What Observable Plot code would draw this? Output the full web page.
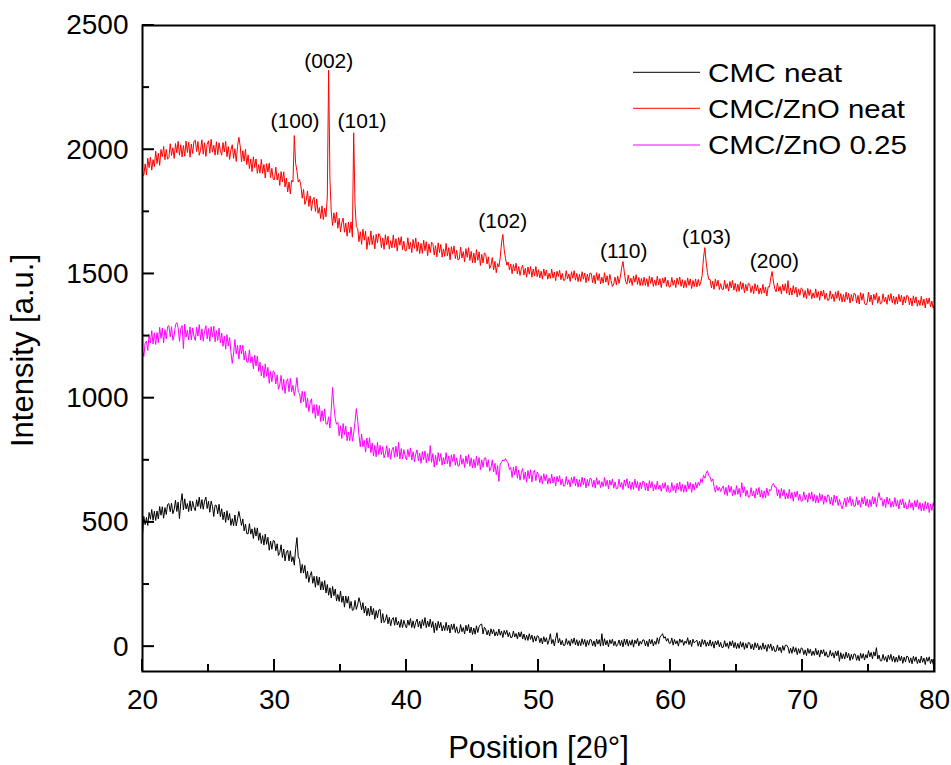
<!DOCTYPE html>
<html><head><meta charset="utf-8">
<script src="https://cdn.jsdelivr.net/npm/d3@7"></script>
<script src="https://cdn.jsdelivr.net/npm/@observablehq/plot@0.6"></script>
<style>
body{margin:0;background:#fff;}
#wrap{position:relative;width:951px;height:765px;font-family:"Liberation Sans",Arial,sans-serif;}
#legend{position:absolute;left:0;top:0;pointer-events:none;}
</style></head><body><div id="wrap"></div>
<script>
// scan grid: each row covers 2° of 2θ, one reading every 0.1°
const START = 20, ROW_SPAN = 2, STEP = 0.1;

const cmcNeat = [
[450,524,491,520,488,540,513,552,509,545,508,546,514,564,529,563,517,560,532,572],
[576,543,577,535,553,589,544,582,515,579,616,550,595,554,576,544,587,547,585,560],
[547,591,564,602,556,592,553,586,602,556,585,541,586,565,524,570,568,535,573,523],
[555,511,542,500,547,509,536,488,515,487,530,486,514,544,517,488,514,466,493,455],
[454,495,453,474,435,479,445,478,428,458,415,447,409,453,412,440,388,425,392,427],
[425,386,414,367,379,410,359,393,345,381,388,345,386,342,362,328,395,439,362,350],
[296,331,296,327,274,304,259,287,302,255,283,239,283,247,280,228,262,228,266,216],
[250,207,237,196,242,205,232,184,210,182,224,178,204,159,204,175,202,154,182,146],
[149,186,150,169,197,176,148,177,135,163,125,155,123,163,128,154,110,145,116,147],
[150,95,133,97,106,129,92,118,83,110,117,86,118,87,102,77,109,77,106,87],
[75,107,86,113,77,104,74,98,111,79,103,73,109,85,117,76,103,80,111,77],
[101,56,95,65,102,76,98,63,85,65,98,65,87,55,90,69,92,57,80,54],
[57,89,60,77,51,86,63,89,55,79,49,75,50,84,57,80,89,91,51,78],
[71,47,66,43,72,52,69,43,60,44,71,46,63,37,65,49,66,40,57,36],
[38,63,39,53,31,58,39,60,31,51,26,46,25,52,29,47,18,42,22,44],
[41,16,35,11,40,19,36,9,26,52,12,29,3,32,56,15,33,7,25,4],
[6,32,9,24,3,31,13,35,7,28,3,24,4,32,9,29,0,25,6,29],
[27,3,23,0,30,10,28,2,52,4,32,7,25,-1,28,12,30,4,22,1],
[9,27,4,25,-1,31,8,30,2,24,6,28,-2,26,12,33,3,22,10,27],
[27,3,23,0,30,11,29,3,22,9,36,12,38,44,52,34,40,22,33,14],
[14,35,6,29,11,24,2,31,17,28,5,22,13,36,8,26,1,30,15,21],
[26,2,22,-1,29,9,27,1,19,3,27,2,20,-6,23,7,25,-1,17,-4],
[-2,24,0,15,-7,21,3,24,-4,17,-8,13,-7,20,-2,17,-11,13,-6,17],
[15,-9,10,-13,16,-4,13,-13,4,-12,15,-10,7,-19,9,-7,11,-16,2,-19],
[-18,7,-16,-2,-24,4,-15,6,6,-2,-27,-6,-27,0,-22,-4,-32,-8,-27,-5],
[-8,-32,-13,-36,-7,-27,-10,-36,-18,-35,-7,-33,-15,-42,-13,-29,-12,-38,-21,-42],
[-40,-15,-38,-24,-46,-18,-37,-16,-59,-24,-49,-29,-50,-22,-45,-27,-56,-31,-51,-29],
[-31,-55,-35,-57,-27,-47,-28,-54,-32,-46,-16,-41,-23,-49,-21,-38,-4,-50,-34,-57],
[-57,-31,-55,-40,-62,-34,-52,-31,-59,-38,-63,-42,-62,-35,-57,-38,-67,-42,-61,-38],
[-41,-65,-45,-69,-39,-59,-41,-68,-50,-66,-38,-63,-46,-72,-43,-59,-41,-68,-50,-71],
[-58]];

const cmcZnoNeat = [
[1895,1896,1943,1899,1966,1928,1970,1918,1960,1932,1994,1944,1986,1937,2001,1972,2013,1960,2001,1962],
[1968,2024,1977,2008,1965,2025,1988,2034,1978,2020,1971,2017,1974,2035,1989,2030,1970,2023,1985,2034],
[2038,1993,2033,1978,1998,2040,1982,2028,1973,2022,2036,1986,2042,1990,2018,1978,2032,1980,2028,1996],
[1978,2029,1991,2034,1972,2013,1961,1999,2020,1965,2004,1953,2013,2050,2016,1952,1996,1954,2002,1940],
[1979,1924,1963,1912,1972,1928,1963,1905,1940,1906,1961,1905,1941,1886,1944,1910,1946,1888,1925,1881],
[1880,1930,1878,1904,1856,1912,1870,1911,1850,1886,1830,1870,1822,1877,1870,2057,1945,1915,1870,1880],
[1855,1805,1840,1780,1796,1834,1772,1814,1755,1799,1808,1752,1802,1744,1767,1723,1774,1719,1764,1730],
[1810,2320,1880,1750,1695,1746,1706,1748,1684,1724,1670,1706,1725,1668,1705,1652,1709,1666,1710,1648],
[2068,1780,1690,1684,1630,1670,1619,1680,1636,1672,1599,1650,1616,1673,1618,1655,1601,1660,1626,1663],
[1653,1606,1645,1599,1658,1618,1652,1600,1634,1605,1657,1607,1642,1592,1646,1616,1650,1598,1632,1592],
[1595,1646,1600,1627,1586,1639,1603,1645,1591,1629,1582,1623,1583,1636,1594,1630,1574,1621,1586,1628],
[1622,1576,1614,1569,1625,1586,1619,1568,1601,1571,1623,1573,1606,1557,1610,1580,1613,1562,1595,1556],
[1560,1608,1564,1590,1549,1602,1567,1606,1554,1591,1545,1584,1545,1598,1555,1589,1534,1579,1544,1585],
[1579,1540,1569,1522,1535,1566,1516,1551,1505,1542,1528,1565,1625,1659,1598,1562,1535,1548,1516,1540],
[1501,1538,1512,1543,1500,1530,1494,1521,1535,1496,1523,1487,1528,1499,1530,1487,1520,1492,1530,1489],
[1517,1484,1511,1479,1520,1492,1516,1479,1503,1482,1519,1484,1508,1473,1511,1490,1515,1477,1502,1474],
[1476,1513,1480,1500,1470,1509,1483,1513,1475,1502,1469,1499,1470,1509,1479,1504,1465,1499,1473,1504],
[1501,1465,1495,1460,1505,1474,1501,1460,1487,1463,1505,1467,1493,1455,1498,1473,1450,1460,1487,1456],
[1492,1462,1488,1525,1550,1508,1470,1459,1496,1463,1483,1454,1492,1467,1497,1458,1486,1453,1482,1454],
[1487,1454,1481,1449,1491,1462,1487,1450,1475,1453,1491,1456,1481,1445,1484,1463,1488,1450,1475,1447],
[1449,1486,1454,1474,1445,1484,1458,1488,1450,1477,1444,1474,1446,1484,1454,1480,1441,1474,1449,1480],
[1448,1478,1452,1468,1495,1565,1606,1548,1505,1478,1478,1444,1471,1438,1480,1451,1475,1437,1461,1439],
[1437,1474,1441,1461,1431,1470,1444,1474,1435,1463,1429,1459,1430,1469,1438,1464,1424,1458,1432,1463],
[1459,1425,1452,1420,1461,1432,1456,1419,1443,1421,1458,1423,1447,1411,1449,1448,1485,1510,1468,1440],
[1428,1464,1431,1450,1420,1458,1432,1461,1422,1473,1415,1444,1415,1453,1422,1447,1407,1440,1414,1444],
[1439,1405,1433,1400,1442,1413,1437,1400,1424,1403,1440,1405,1429,1394,1432,1411,1435,1398,1422,1394],
[1395,1432,1399,1419,1389,1428,1402,1432,1393,1421,1387,1417,1388,1427,1397,1422,1383,1417,1391,1422],
[1419,1383,1414,1379,1425,1394,1421,1381,1375,1385,1427,1388,1415,1376,1419,1396,1424,1382,1410,1379],
[1383,1420,1388,1407,1378,1416,1391,1421,1384,1411,1377,1408,1380,1418,1388,1414,1375,1409,1384,1414],
[1410,1376,1403,1371,1412,1383,1408,1370,1394,1373,1410,1374,1399,1363,1402,1380,1404,1367,1391,1362],
[1378]];

const cmcZno025 = [
[1190,1168,1222,1230,1192,1257,1223,1272,1218,1263,1216,1264,1223,1285,1241,1282,1223,1276,1239,1288],
[1292,1247,1288,1233,1254,1296,1304,1284,1229,1278,1292,1200,1298,1246,1274,1234,1287,1235,1283,1250],
[1232,1286,1250,1296,1235,1279,1229,1269,1292,1239,1280,1229,1288,1246,1290,1227,1272,1232,1282,1222],
[1262,1209,1249,1197,1256,1210,1244,1184,1140,1182,1236,1178,1213,1157,1214,1178,1213,1154,1189,1145],
[1145,1195,1142,1167,1118,1173,1130,1170,1108,1145,1090,1130,1082,1138,1088,1124,1060,1108,1066,1110],
[1105,1057,1094,1036,1053,1092,1032,1076,1019,1066,1078,1026,1080,1026,1052,1010,1040,1083,1025,1020],
[980,1028,986,1027,962,1001,946,981,998,939,974,919,974,929,970,906,950,908,957,896],
[895,925,880,955,1043,968,918,895,902,849,889,838,898,853,888,829,864,829,884,827],
[860,905,958,912,850,805,856,804,830,783,840,799,841,781,820,767,810,764,822,773],
[810,773,805,760,776,809,762,798,754,792,803,762,807,765,822,755,797,756,793,767],
[752,794,764,800,751,785,744,775,792,748,779,738,785,752,788,740,777,747,809,742],
[777,722,770,731,781,746,777,731,761,735,781,737,767,724,772,745,775,730,760,726],
[729,772,734,757,721,768,737,773,726,760,719,754,720,767,729,761,712,752,722,759],
[760,722,752,706,720,752,703,738,692,729,665,735,742,752,748,757,745,740,712,722],
[681,722,692,727,678,711,670,700,717,673,703,662,709,676,712,663,700,711,668,703],
[694,660,688,655,696,668,692,654,679,657,694,659,683,647,686,664,688,651,675,646],
[648,685,653,672,643,681,657,685,647,675,642,672,644,682,652,678,639,673,647,678],
[675,642,670,638,680,652,669,640,664,644,681,646,670,635,670,650,675,638,663,635],
[637,674,642,661,632,671,646,676,638,666,632,662,633,674,640,665,627,661,636,666],
[663,630,658,626,668,640,664,627,652,632,666,634,650,625,657,637,661,624,649,621],
[623,660,628,648,619,658,633,663,625,653,621,651,623,664,634,660,621,655,630,661],
[638,662,648,676,660,690,678,697,708,688,684,664,675,645,622,648,628,642,624,638],
[647,613,641,608,650,621,645,608,632,611,648,613,637,602,660,619,643,605,630,601],
[603,640,607,627,598,636,611,641,602,630,597,627,599,638,608,632,628,650,657,642],
[643,607,632,597,637,608,632,594,618,596,633,597,621,585,623,602,626,589,613,585],
[587,623,591,610,581,619,594,623,584,612,578,608,579,617,587,612,573,606,581,611],
[607,573,601,568,610,581,606,568,593,571,555,574,598,563,601,580,605,567,592,564],
[566,603,570,590,561,600,574,604,566,594,561,592,564,604,574,601,562,597,620,590],
[599,565,593,560,602,573,597,560,584,563,600,565,589,554,592,571,595,558,582,554],
[556,592,560,579,549,588,562,591,553,580,546,576,547,585,555,580,540,574,548,579],
[560]];

const seriesNames = ["CMC neat", "CMC/ZnO neat", "CMC/ZnO 0.25"];
const seriesColors = ["#000000", "#ff0000", "#ff00ff"];
const seriesRows = [cmcNeat, cmcZnoNeat, cmcZno025];

const xTicks = [20, 30, 40, 50, 60, 70, 80];
const xMinorTicks = [25, 35, 45, 55, 65, 75];
const yTicks = [0, 500, 1000, 1500, 2000, 2500];
const yMinorTicks = [250, 750, 1250, 1750, 2250];

const peakLabels = ["(100)", "(002)", "(101)", "(102)", "(110)", "(103)", "(200)"];
const peakX = [31.56, 34.11, 36.63, 47.29, 56.46, 62.72, 67.87];
const peakY = [2087, 2327, 2087, 1683, 1566, 1622, 1522];

const xTitle = "Position [2θ°]";
const yTitle = "Intensity [a.u.]";

// flatten rows into (2θ, intensity) records
const tables = seriesRows.map((rows, s) =>
  rows.flatMap((row, r) => row.map((v, k) => ({
    x: +(START + r * ROW_SPAN + k * STEP).toFixed(2), y: v, series: seriesNames[s]
  }))));
const peaks = peakLabels.map((t, i) => ({t, x: peakX[i], y: peakY[i]}));

const FONT = '"Liberation Sans", Arial, sans-serif';
const W = 951, H = 765;
const fmt = d3.format("d");

const plot = Plot.plot({
  width: W, height: H,
  marginTop: 25, marginBottom: 94, marginLeft: 142, marginRight: 17,
  style: {fontFamily: FONT, background: "white", color: "black", overflow: "visible"},
  x: {domain: [20, 80]},
  y: {domain: [-100, 2500]},
  marks: [
    ...tables.map((tbl, s) => Plot.line(tbl, {x: "x", y: "y", stroke: seriesColors[s], strokeWidth: 1})),
    Plot.text(peaks, {x: "x", y: "y", text: "t", lineAnchor: "bottom", fontSize: 21, fill: "black"}),
    Plot.frame({stroke: "black", strokeWidth: 2}),
    Plot.axisX(xTicks, {tickSize: 0, tickPadding: 18, fontSize: 28, label: null, stroke: "none", tickFormat: fmt}),
    Plot.axisY(yTicks, {tickSize: 0, tickPadding: 14, fontSize: 28, label: null, stroke: "none", tickFormat: fmt}),
    Plot.text([xTitle], {text: d => d, frameAnchor: "bottom", textAnchor: "middle", lineAnchor: "bottom", dy: 86, fontSize: 31}),
    Plot.text([yTitle], {text: d => d, frameAnchor: "left", textAnchor: "middle", rotate: -90, dx: -119.5, dy: 2, fontSize: 31})
  ]
});

// inward tick marks, placed with the plot's own scales
const xs = plot.scale("x"), ys = plot.scale("y");
const frameBottom = ys.apply(ys.domain[0]);
const frameLeft = xs.apply(xs.domain[0]);
const tickG = d3.select(plot).append("g").attr("stroke", "black").attr("stroke-width", 2);
[[xTicks, 12], [xMinorTicks, 7]].forEach(([vals, len]) => vals.forEach(v => {
  const px = xs.apply(v);
  tickG.append("line").attr("x1", px).attr("x2", px).attr("y1", frameBottom).attr("y2", frameBottom - len);
}));
[[yTicks, 12], [yMinorTicks, 7]].forEach(([vals, len]) => vals.forEach(v => {
  const py = ys.apply(v);
  tickG.append("line").attr("x1", frameLeft).attr("x2", frameLeft + len).attr("y1", py).attr("y2", py);
}));

// serif theta in the x title
d3.select(plot).selectAll("text").filter(function() { return this.textContent === xTitle; })
  .each(function() {
    const t = d3.select(this);
    t.text("");
    t.append("tspan").text("Position [2");
    t.append("tspan").attr("font-family", '"Liberation Serif", "Times New Roman", serif').text("θ");
    t.append("tspan").text("°]");
  });

const wrap = document.getElementById("wrap");
wrap.appendChild(plot);

// legend overlay (inside the plot frame, upper right)
const legendFont = 26;
const legendRows = [72.3, 108.3, 145];
const legendWidths = [134, 197, 199];
const leg = d3.select(wrap).append("svg").attr("id", "legend")
  .attr("width", W).attr("height", H);
seriesNames.forEach((name, i) => {
  const yy = legendRows[i];
  leg.append("line").attr("x1", 633).attr("x2", 700).attr("y1", yy).attr("y2", yy)
    .attr("stroke", seriesColors[i]).attr("stroke-width", 1);
  leg.append("text").attr("x", 708).attr("y", yy + 0.358 * legendFont)
    .attr("font-family", FONT).attr("font-size", legendFont).attr("fill", "black")
    .attr("textLength", legendWidths[i]).attr("lengthAdjust", "spacingAndGlyphs")
    .text(name);
});
</script>
</body></html>
